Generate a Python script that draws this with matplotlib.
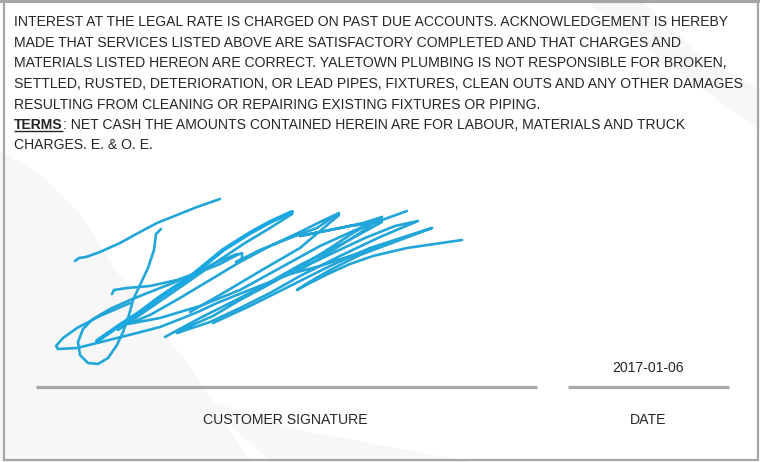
import matplotlib
matplotlib.use("Agg")
import matplotlib.pyplot as plt
from matplotlib.patches import Polygon, Rectangle

# ---------------- data ----------------
body_lines = [
    "INTEREST AT THE LEGAL RATE IS CHARGED ON PAST DUE ACCOUNTS. ACKNOWLEDGEMENT IS HEREBY",
    "MADE THAT SERVICES LISTED ABOVE ARE SATISFACTORY COMPLETED AND THAT CHARGES AND",
    "MATERIALS LISTED HEREON ARE CORRECT. YALETOWN PLUMBING IS NOT RESPONSIBLE FOR BROKEN,",
    "SETTLED, RUSTED, DETERIORATION, OR LEAD PIPES, FIXTURES, CLEAN OUTS AND ANY OTHER DAMAGES",
    "RESULTING FROM CLEANING OR REPAIRING EXISTING FIXTURES OR PIPING.",
]
terms_label = "TERMS"
terms_text = ": NET CASH THE AMOUNTS CONTAINED HEREIN ARE FOR LABOUR, MATERIALS AND TRUCK"
last_line = "CHARGES. E. & O. E."
date_value = "2017-01-06"
sig_label = "CUSTOMER SIGNATURE"
date_label = "DATE"

# signature strokes (x, y in pixel space of the 760x462 form, y downwards)
stroke_top = [(75, 261), (79, 258), (86, 257), (100, 252), (120, 243), (140, 232),
              (157, 223), (177, 215), (197, 207), (220, 199)]
stroke_loop = [(161, 229), (156, 234), (154, 250), (148, 268), (140, 285), (133, 300),
               (129, 315), (123, 332), (117, 345), (108, 358), (98, 364), (88, 363),
               (80, 355), (78, 342), (83, 329), (93, 319), (110, 309), (130, 300),
               (150, 292), (173, 283), (195, 273), (215, 263), (237, 254)]
stroke_arrow = [(130, 303), (100, 316), (77, 328), (63, 338), (56, 346), (58, 349),
                (77, 348), (97, 343), (117, 338), (137, 333), (160, 327), (183, 318),
                (200, 311), (217, 303), (237, 295), (257, 287), (283, 277), (300, 270),
                (330, 252), (360, 233), (382, 217)]
stroke_thick = [(97, 341), (120, 325), (140, 312), (160, 297), (190, 277), (223, 250),
                (250, 233), (270, 222), (292, 212)]
stroke_double = [(118, 330), (150, 308), (185, 284), (215, 263), (245, 243), (270, 228),
                 (292, 214)]
stroke_hook = [(112, 294), (114, 290), (127, 288), (150, 286), (177, 280), (200, 272),
               (220, 264), (237, 255), (242, 253), (242, 260), (236, 262), (260, 250),
               (290, 238), (317, 228), (339, 213), (320, 222), (300, 232), (270, 246),
               (240, 262), (210, 280), (180, 298), (150, 315), (128, 324), (160, 318),
               (200, 306), (240, 290), (280, 268), (320, 246), (360, 228), (407, 211)]
stroke_zig1 = [(165, 337), (200, 318), (240, 298), (270, 282), (300, 265), (340, 245),
               (382, 222), (350, 226), (320, 232), (300, 236), (340, 228), (363, 223),
               (382, 217), (353, 233), (327, 250), (300, 267), (270, 284), (240, 300),
               (213, 316), (190, 326), (177, 333), (210, 322), (240, 308), (270, 293),
               (300, 276), (340, 256), (380, 237), (418, 221), (395, 226), (365, 238),
               (335, 252), (310, 264), (290, 274), (320, 266), (350, 256), (390, 242),
               (432, 228)]
stroke_zig2 = [(213, 323), (250, 306), (290, 286), (330, 266), (370, 248), (432, 228),
               (400, 240), (360, 255), (330, 270), (306, 284), (297, 290), (310, 283),
               (330, 273), (350, 264), (373, 256), (407, 248), (462, 240)]
stroke_zig3 = [(190, 312), (225, 292), (262, 270), (300, 248), (339, 215)]
strokes = [stroke_top, stroke_loop, stroke_arrow, stroke_double, stroke_hook,
           stroke_zig1, stroke_zig2, stroke_zig3]

# faint watermark shapes
wm_shape_a = [(0, 150), (40, 175), (80, 215), (117, 272), (190, 367), (250, 462), (0, 462)]
wm_shape_b = [(205, 400), (300, 430), (470, 462), (270, 462)]
wm_shape_c = [(585, 0), (640, 0), (700, 55), (760, 90), (760, 130), (690, 80)]

# ---------------- figure ----------------
W, H = 760, 462
fig = plt.figure(figsize=(W / 100, H / 100), dpi=100)
ax = fig.add_axes([0, 0, 1, 1])
ax.set_xlim(0, W)
ax.set_ylim(H, 0)
ax.axis("off")

for shp in (wm_shape_a, wm_shape_b, wm_shape_c):
    ax.add_patch(Polygon(shp, closed=True, facecolor="#f7f7f7", edgecolor="none", zorder=0))

# border
ax.add_patch(Rectangle((0, 0), W, 3, facecolor="#a6a6a6", edgecolor="none", zorder=1))
ax.add_patch(Rectangle((4, 2), 754, 458, facecolor="none", edgecolor="#a6a6a6",
                       linewidth=1.6, zorder=1))

FONT = "Liberation Sans"
FS = 10.1
TXT = "#262626"
x0 = 14
baselines = [26, 47, 67, 88, 109, 129, 149]

for i, line in enumerate(body_lines):
    ax.text(x0, baselines[i], line, fontsize=FS, family=FONT, color=TXT,
            ha="left", va="baseline")

t_terms = ax.text(x0, baselines[5], terms_label, fontsize=FS, family=FONT, color=TXT,
                  fontweight="bold", ha="left", va="baseline")
ax.annotate(terms_text, xy=(1, 0), xycoords=t_terms, fontsize=FS, family=FONT,
            color=TXT, ha="left", va="bottom")
ax.text(x0, baselines[6], last_line, fontsize=FS, family=FONT, color=TXT,
        ha="left", va="baseline")

# underline TERMS
fig.canvas.draw()
bb = t_terms.get_window_extent().transformed(ax.transData.inverted())
ax.plot([bb.x0, bb.x1], [baselines[5] + 2, baselines[5] + 2], color=TXT, lw=1.0,
        solid_capstyle="butt")

# signature
SIG = "#22a6da"
for s in strokes:
    xs, ys = zip(*s)
    ax.plot(xs, ys, color=SIG, lw=1.9, solid_joinstyle="round",
            solid_capstyle="round", zorder=3)
xs, ys = zip(*stroke_thick)
ax.plot(xs, ys, color="#1aa8e2", lw=3.0, solid_joinstyle="round",
        solid_capstyle="round", zorder=3)

# signature / date lines
ax.plot([36, 537], [387, 387], color="#a6a6ab", lw=2.3, solid_capstyle="butt", zorder=2)
ax.plot([568, 729], [387, 387], color="#a6a6ab", lw=2.3, solid_capstyle="butt", zorder=2)

ax.text(648, 368, date_value, fontsize=FS, family=FONT, color=TXT, ha="center", va="center")
ax.text(285, 420, sig_label, fontsize=FS, family=FONT, color=TXT, ha="center", va="center")
ax.text(648, 420, date_label, fontsize=FS, family=FONT, color=TXT, ha="center", va="center")

fig.savefig("out.png", dpi=100)
